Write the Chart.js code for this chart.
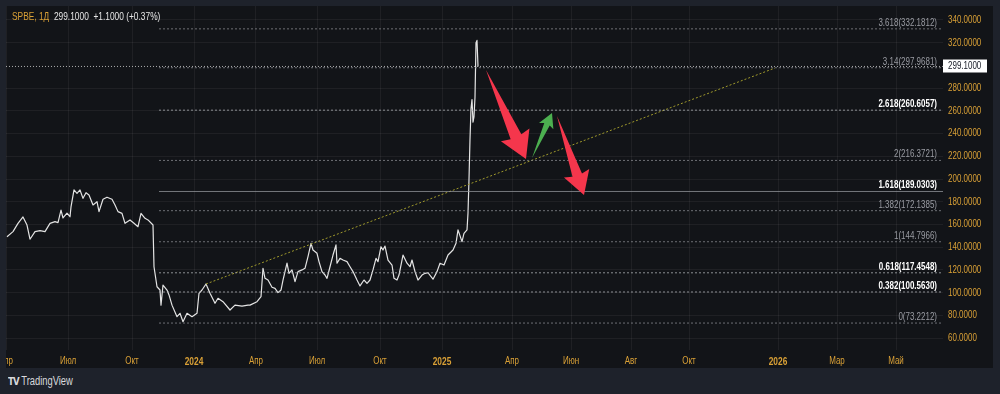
<!DOCTYPE html>
<html><head><meta charset="utf-8">
<script src="https://cdn.jsdelivr.net/npm/chart.js@4.4.1/dist/chart.umd.min.js"></script>
<style>
html,body{margin:0;padding:0;background:#1e222b;width:1000px;height:394px;overflow:hidden;font-family:"Liberation Sans",Arial,sans-serif;}
#panel{position:absolute;left:6px;top:6px;width:987px;height:362px;background:#121418;}
#header{position:absolute;left:12px;top:10px;font-size:11px;color:#e6e6e6;white-space:pre;transform:scaleX(0.76);transform-origin:0 0;}
#header .sym{color:#d9a036;}
#footer{position:absolute;left:8px;top:374px;font-size:12px;color:#d8d9dc;display:flex;align-items:center;gap:3px;white-space:pre;transform:scaleX(0.78);transform-origin:0 0;}
#footer b{font-family:"DejaVu Sans",sans-serif;font-weight:900;font-size:11px;letter-spacing:-1px;}
</style></head><body>
<div id="panel"><canvas id="c"></canvas></div>
<div id="header"><span class="sym">SPBE, 1Д</span>  299.1000  +1.1000 (+0.37%)</div>
<div id="footer"><b>TV</b><span>TradingView</span></div>
<script>
// ---- data (x = trading-bar index) ----
const priceX = [1,7,12,17,21,24,29,34,39,44,49,52,55,57,61,64,65,68,71,74,77,80,83,87,91,93,97,101,106,109,112,116,119,124,128,132,135,139,142,147,148,151,154,155,157,161,163,166,171,174,177,181,186,191,193,196,200,204,209,212,217,224,229,236,242,244,251,255,257,259,262,266,269,272,275,277,281,283,286,289,292,296,299,302,305,307,311,313,316,319,321,324,327,330,331,334,337,341,344,347,351,354,358,361,364,367,370,372,375,377,379,382,386,388,391,393,397,401,404,406,409,412,416,419,422,427,431,434,438,442,447,450,452,456,458,461,462,463,464,465,466,467,468,469,470,471,472];
const priceY = [149.2,153.7,161,166.6,159.5,147,153.7,154.5,153.7,161,162.5,161.6,172.7,165.7,170,166.8,175.4,190.4,187.4,190.4,183,188,186,177.2,180,171.3,182.2,184,182.2,177.2,171.3,169.8,161,164,161,158,169.8,165.4,164,159.5,122.8,105.2,102.3,89,106.7,102.3,98,89,78.8,81.8,74.4,81.8,78.8,81.8,99.4,102.3,107.6,99.4,90.6,95,92,84.7,89,88.2,89,89,92,96.4,121.4,112.6,111.1,104.7,103.8,100,102.3,111.1,125.9,117,120,109.7,118.5,120,121.4,131.7,143.4,137.5,134.6,127.3,118.5,115.5,112.6,122.8,133.1,142,125.9,130.2,128.7,127.3,122.8,118.5,111.1,105.9,111.1,108.2,111.1,120,130.2,127.3,140.4,137.5,141,128.7,124.3,112.6,111.1,115.5,133.1,125.9,122.8,128.7,118.5,111.1,115.5,117,117.5,111.8,118.5,125.9,124.3,133.1,137.5,143.4,155.2,144.9,152.2,155.2,170,200,235,262,270,250,255,272,320,322,299.1];
const lastPrice = 299.1;
const fibValues = [332.1812,297.9681,260.6057,216.3721,189.0303,172.1385,144.7966,117.4548,100.5630,73.2212];
const fibLabels = ["3.618(332.1812)","3.14(297.9681)","2.618(260.6057)","2(216.3721)","1.618(189.0303)","1.382(172.1385)","1(144.7966)","0.618(117.4548)","0.382(100.5630)","0(73.2212)"];
const fibStrong = [false,false,true,false,true,false,false,true,true,false];
const fibStartX = 153;
const trendX = [200, 769];
const trendY = [107.6, 297.7];
const xTickPos = [0,62,126,188,250,311,374,436,506,565,625,683,772,831,890];
const xTickLabels = ["Апр","Июл","Окт","2024","Апр","Июл","Окт","2025","Апр","Июн","Авг","Окт","2026","Мар","Май"];
const yTicks = [60,80,100,120,140,160,180,200,220,240,260,280,320,340];
const arrows = [
  {tail:[480,296.0], tip:[520,217.6], color:"#f5364c"},
  {tail:[526,218.5], tip:[546,258.1], color:"#4caf50"},
  {tail:[551,255.5], tip:[578,186.0], color:"#f5364c"}
];
const X_MIN = 0, X_MAX = 937, Y_MIN = 49.5, Y_MAX = 352.3;

const FONT = '"Liberation Sans",Arial,sans-serif';
const GOLD = '#d9a036';
const SX = 0.76; // horizontal text condensing

const datasets = [];
fibValues.forEach((v,i)=>{
  datasets.push({data:[{x:fibStartX,y:v},{x:X_MAX,y:v}], borderColor: i===4 ? 'rgba(150,152,158,0.75)' : (fibStrong[i] ? 'rgba(170,172,178,0.8)' : 'rgba(140,142,148,0.75)'),
    borderWidth:1, borderDash: i===4 ? [] : [2,2], pointRadius:0, fill:false});
});
datasets.push({data:[{x:X_MIN,y:lastPrice},{x:X_MAX,y:lastPrice}], borderColor:'rgba(210,210,210,0.8)', borderWidth:1, borderDash:[1,2], pointRadius:0});
datasets.push({data:trendX.map((x,i)=>({x, y:trendY[i]})), borderColor:'#a09a2c', borderWidth:1, borderDash:[2,2], pointRadius:0});
datasets.push({data:priceX.map((x,i)=>({x, y:priceY[i]})), borderColor:'#e4e4e4', borderWidth:1.2, pointRadius:0, tension:0});

const overlay = {
  id:'overlay',
  beforeInit(chart){
    const ctx = chart.ctx;
    const orig = ctx.fillText.bind(ctx);
    ctx.fillText = function(t,x,y,mw){
      ctx.save(); ctx.translate(x,y); ctx.scale(SX,1);
      if (mw !== undefined) orig(t,0,0,mw/SX); else orig(t,0,0);
      ctx.restore();
    };
  },
  afterDatasetsDraw(chart){
    const ctx = chart.ctx, xs = chart.scales.x, ys = chart.scales.y, ca = chart.chartArea;
    ctx.save();
    arrows.forEach(a=>{
      const x1 = xs.getPixelForValue(a.tail[0]), y1 = ys.getPixelForValue(a.tail[1]);
      const x2 = xs.getPixelForValue(a.tip[0]), y2 = ys.getPixelForValue(a.tip[1]);
      const dx=x2-x1, dy=y2-y1, L=Math.hypot(dx,dy), ux=dx/L, uy=dy/L, nx=-uy, ny=ux;
      const hl=0.25*L, hw=0.16*L, sw=0.06*L;
      const bx=x2-ux*hl, by=y2-uy*hl;
      ctx.beginPath();
      ctx.moveTo(x1,y1);
      ctx.lineTo(bx+nx*sw, by+ny*sw);
      ctx.lineTo(bx+nx*hw - ux*2, by+ny*hw - uy*2);
      ctx.lineTo(x2,y2);
      ctx.lineTo(bx-nx*hw - ux*2, by-ny*hw - uy*2);
      ctx.lineTo(bx-nx*sw, by-ny*sw);
      ctx.closePath();
      ctx.fillStyle=a.color; ctx.fill();
    });
    ctx.textAlign='right'; ctx.textBaseline='alphabetic';
    fibValues.forEach((v,i)=>{
      const y = ys.getPixelForValue(v);
      ctx.font = (fibStrong[i]?'bold ':'') + '10.5px ' + FONT;
      ctx.fillStyle = fibStrong[i] ? '#ffffff' : '#9a9ca3';
      ctx.fillText(fibLabels[i], ca.right-6, y-3);
    });
    ctx.restore();
  },
  afterDraw(chart){
    const ctx = chart.ctx, ys = chart.scales.y, ca = chart.chartArea;
    const y = ys.getPixelForValue(lastPrice);
    ctx.save();
    ctx.fillStyle='#ffffff';
    ctx.fillRect(ca.right, Math.round(y)-6.5, 44, 13);
    ctx.fillStyle='#131722';
    ctx.font='10.5px '+FONT; ctx.textAlign='left'; ctx.textBaseline='middle';
    ctx.fillText(lastPrice.toFixed(4), ca.right+5, Math.round(y)+0.5);
    ctx.restore();
  }
};

function noPad(s){ s.paddingLeft=0; s.paddingRight=0; s.paddingTop=0; s.paddingBottom=0; }

new Chart(document.getElementById('c'), {
  type:'line',
  data:{datasets},
  options:{
    responsive:true, maintainAspectRatio:false, animation:false, devicePixelRatio:1,
    layout:{padding:0, autoPadding:false},
    plugins:{legend:{display:false}, tooltip:{enabled:false}},
    elements:{line:{borderJoinStyle:'round'}},
    scales:{
      x:{type:'linear', min:X_MIN, max:X_MAX,
        afterBuildTicks:s=>{s.ticks = xTickPos.map(v=>({value:v}));},
        afterFit:s=>{s.height=18; noPad(s);},
        grid:{color:'rgba(255,255,255,0.055)', drawTicks:false},
        border:{display:false},
        ticks:{autoSkip:false, maxRotation:0, padding:5, color:GOLD,
          font:c=>({family:FONT, size: /^\d{4}$/.test(xTickLabels[c.index]||'') ? 11 : 10.5, weight: /^\d{4}$/.test(xTickLabels[c.index]||'') ? 'bold':'normal'}),
          callback:(v,i)=>xTickLabels[i]}
      },
      y:{type:'linear', position:'right', min:Y_MIN, max:Y_MAX,
        afterBuildTicks:s=>{s.ticks = yTicks.map(v=>({value:v}));},
        afterFit:s=>{s.width=50; noPad(s);},
        grid:{color:'rgba(255,255,255,0.055)', drawTicks:false},
        border:{display:false},
        ticks:{autoSkip:false, padding:5, color:GOLD, font:{family:FONT, size:10.5},
          callback:v=>Number(v).toFixed(4)}
      }
    }
  },
  plugins:[overlay]
});
</script>
</body></html>
